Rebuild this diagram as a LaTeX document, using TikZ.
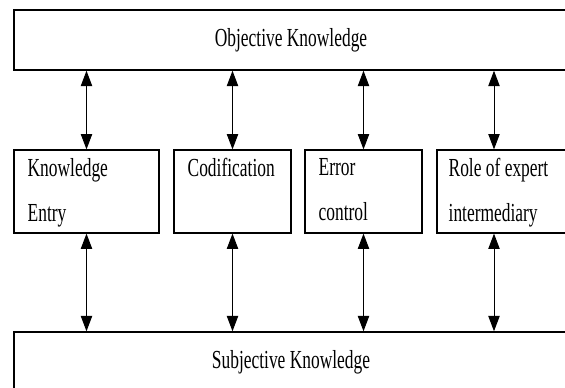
\documentclass[tikz,border=0pt]{standalone}
\usepackage{fontspec}
\setmainfont[FakeStretch=0.67]{Liberation Serif}
\usetikzlibrary{arrows.meta}

\begin{document}
\begin{tikzpicture}[x=0.75pt,y=-0.75pt,
  font=\fontsize{19.5}{33.75}\selectfont,
  wide/.style={draw,line width=1.1pt,minimum width=415.5pt,minimum height=45pt,inner sep=0pt},
  part/.style={draw,line width=0.9pt,minimum height=62.25pt,inner sep=0pt},
  caption/.style={anchor=north west,align=left,inner sep=0pt,xshift=10.5pt,yshift=-6.5pt},
  link/.style={{Triangle[width=8.5pt,length=11.5pt]}-{Triangle[width=8.5pt,length=11.5pt]},line width=0.75pt}]
\useasboundingbox (0,0) rectangle (565,388);
\clip (0,0) rectangle (565,388);

\node[wide] (obj) at (291,40) {Objective Knowledge};
\node[wide] (subj) at (291,362) {Subjective Knowledge};

\node[part,minimum width=108.75pt] (entry) at (86.5,191.5) {};
\node[part,minimum width=87.75pt] (codif) at (232.5,191.5) {};
\node[part,minimum width=87.75pt] (error) at (363.5,191.5) {};
\node[part,minimum width=98.25pt] (role) at (502.5,191.5) {};

\node[caption] (entrytxt) at (entry.north west) {Knowledge\\Entry};
\node[caption] (codiftxt) at (codif.north west) {Codification};
\node[caption] (errortxt) at (error.north west) {Error\\control};
\node[caption,xshift=-1.5pt] (roletxt) at (role.north west) {Role of expert\\intermediary};

% arrows between the layers
\coordinate (rolex) at (494,0);
\draw[link] (obj.south -| entry) -- (entry.north);
\draw[link] (obj.south -| codif) -- (codif.north);
\draw[link] (obj.south -| error) -- (error.north);
\draw[link] (obj.south -| rolex) -- (role.north -| rolex);

\draw[link] (entry.south) -- (subj.north -| entry);
\draw[link] (codif.south) -- (subj.north -| codif);
\draw[link] (error.south) -- (subj.north -| error);
\draw[link] (role.south -| rolex) -- (subj.north -| rolex);
\end{tikzpicture}
\end{document}
